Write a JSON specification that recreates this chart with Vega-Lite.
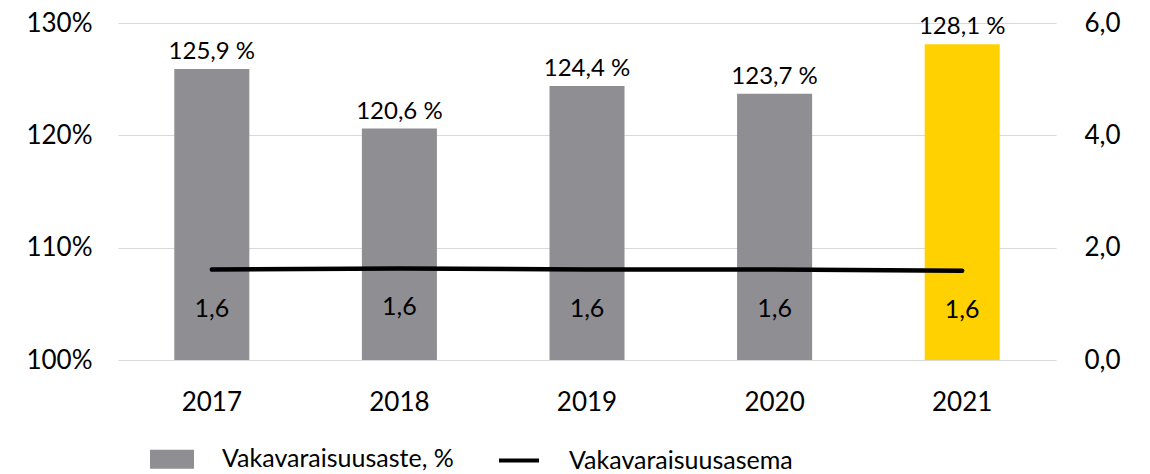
{
  "$schema": "https://vega.github.io/schema/vega-lite/v6.json",
  "autosize": "none",
  "width": 938,
  "height": 337,
  "padding": {"left": 118, "top": 23, "right": 94, "bottom": 114},
  "background": "white",
  "config": {
    "view": {"stroke": null},
    "font": "Lato",
    "axis": {"labelFont": "Lato", "labelFontSize": 26, "labelColor": "black", "domain": false, "ticks": false, "title": null},
    "legend": {"labelFont": "Lato", "labelFontSize": 25, "labelColor": "black"}
  },
  "data": {
    "values": [
      {"year": "2017", "pct": 125.9, "pos": 1.61},
      {"year": "2018", "pct": 120.6, "pos": 1.63},
      {"year": "2019", "pct": 124.4, "pos": 1.61},
      {"year": "2020", "pct": 123.7, "pos": 1.61},
      {"year": "2021", "pct": 128.1, "pos": 1.59}
    ]
  },
  "transform": [
    {"calculate": "replace(format(datum.pct, '.1f'), '.', ',') + ' %'", "as": "pctLabel"},
    {"calculate": "replace(format(datum.pos, '.1f'), '.', ',')", "as": "posLabel"}
  ],
  "encoding": {
    "x": {
      "field": "year", "type": "nominal",
      "scale": {"paddingInner": 0.6, "paddingOuter": 0.3},
      "axis": {"labelAngle": 0, "labelPadding": 29, "grid": false}
    }
  },
  "layer": [
    {
      "encoding": {
        "y": {
          "field": "pct", "type": "quantitative",
          "scale": {"domain": [100, 130], "zero": false, "nice": false},
          "axis": {"orient": "left", "values": [100, 110, 120, 130], "labelExpr": "datum.value + '%'", "grid": true, "gridColor": "#d9d9d9", "gridWidth": 1, "labelPadding": 26}
        }
      },
      "layer": [
        {
          "mark": {"type": "bar"},
          "encoding": {
            "y2": {"datum": 100},
            "color": {
              "condition": {"test": "datum.year === '2021'", "value": "#ffd100"},
              "datum": "Vakavaraisuusaste, %",
              "type": "nominal",
              "scale": {"domain": ["Vakavaraisuusaste, %", "Vakavaraisuusasema"], "range": ["#8f8e93", "#000000"]},
              "legend": {
                "title": null,
                "orient": "none",
                "direction": "horizontal",
                "legendX": 32,
                "legendY": 414,
                "symbolSize": 1600,
                "labelOffset": 28,
                "columnPadding": 37,
                "labelFontSize": 25,
                "labelFont": "Lato",
                "labelLimit": 500,
                "labelBaseline": "middle",
                "symbolOpacity": 1,
                "encode": {
                  "symbols": {
                    "update": {
                      "shape": {"signal": "datum.label === 'Vakavaraisuusasema' ? 'M-1,0H1' : 'M-1,-0.375H1V0.375H-1Z'"},
                      "fill": {"signal": "datum.label === 'Vakavaraisuusasema' ? 'transparent' : '#8f8e93'"},
                      "stroke": {"signal": "datum.label === 'Vakavaraisuusasema' ? '#000000' : 'transparent'"},
                      "strokeWidth": {"value": 4},
                      "size": {"value": 1600}
                    }
                  }
                }
              }
            }
          }
        },
        {
          "mark": {"type": "text", "baseline": "bottom", "dy": -5, "fontSize": 24, "font": "Lato", "color": "black"},
          "encoding": {"text": {"field": "pctLabel"}}
        }
      ]
    },
    {
      "encoding": {
        "y": {
          "field": "pos", "type": "quantitative",
          "scale": {"domain": [0, 6], "nice": false},
          "axis": {"orient": "right", "values": [0, 2, 4, 6], "labelExpr": "replace(format(datum.value, '.1f'), '.', ',')", "grid": false, "labelPadding": 28}
        }
      },
      "layer": [
        {
          "mark": {"type": "line", "strokeWidth": 4.5, "strokeCap": "round", "color": "#000000"},
          "encoding": {"color": {"datum": "Vakavaraisuusasema", "type": "nominal"}}
        },
        {
          "mark": {"type": "text", "baseline": "middle", "dy": 39, "fontSize": 25, "font": "Lato", "color": "black"},
          "encoding": {"text": {"field": "posLabel"}}
        }
      ]
    }
  ],
  "resolve": {"scale": {"y": "independent"}}
}
